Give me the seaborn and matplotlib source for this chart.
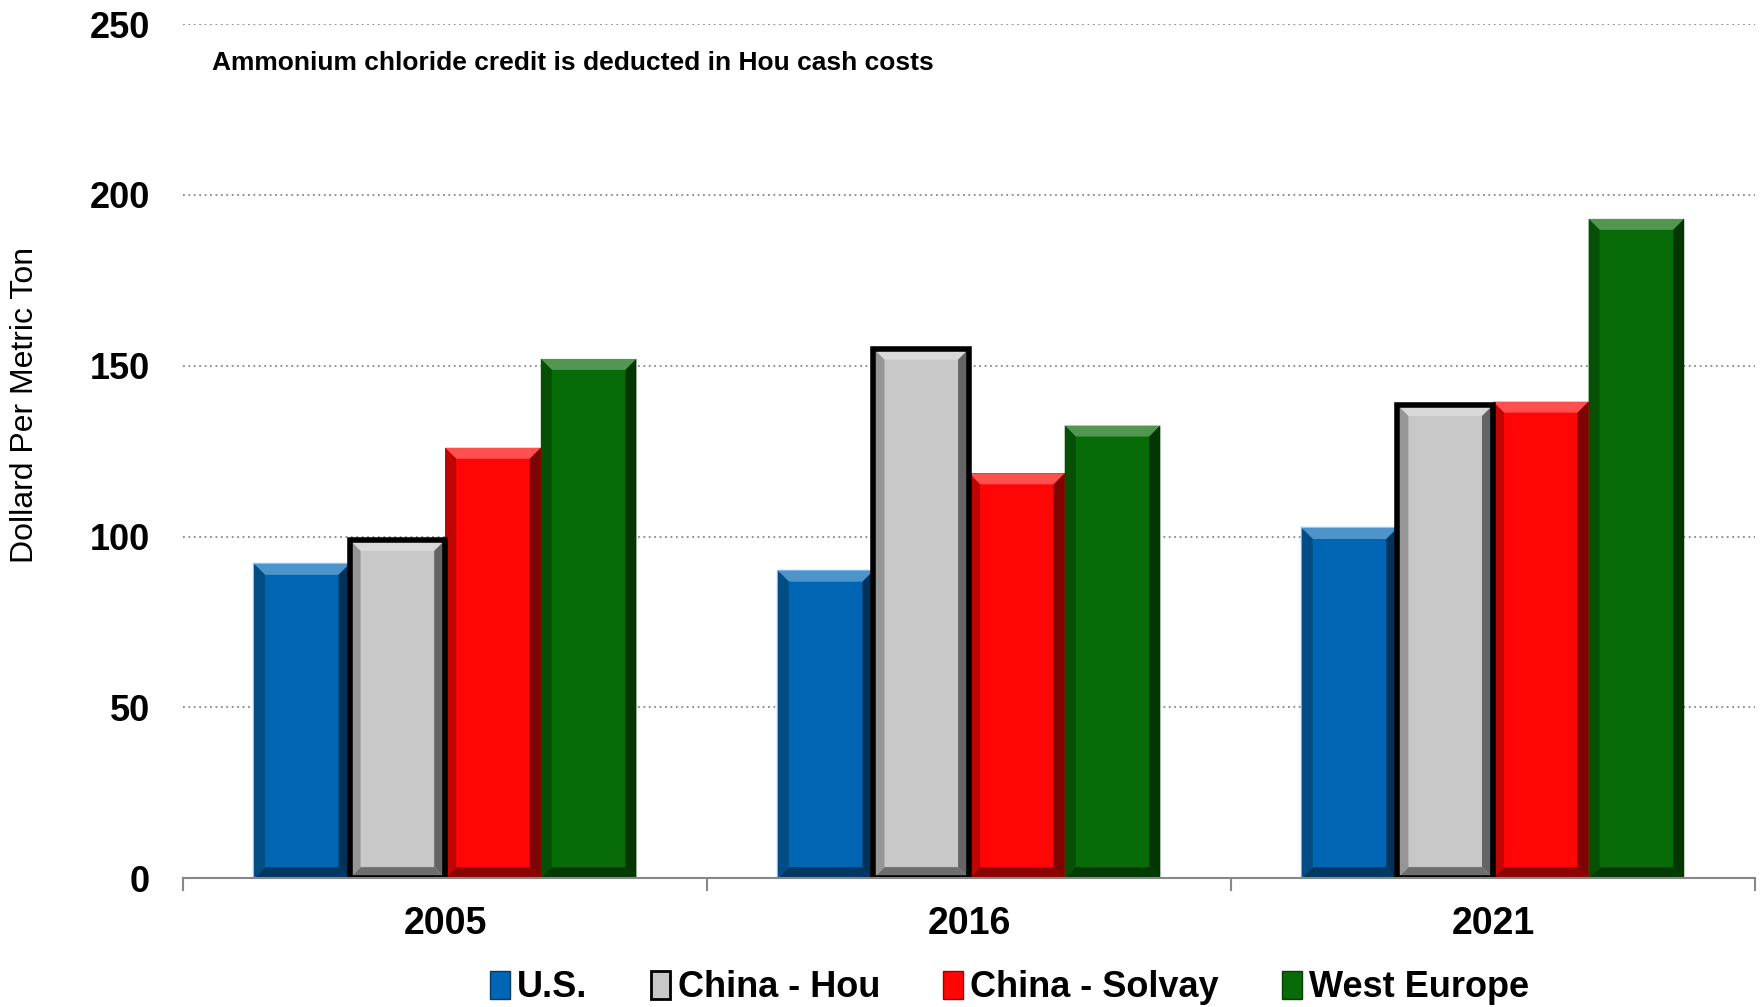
import numpy as np
import pandas as pd
import matplotlib
matplotlib.use("Agg")
import matplotlib.pyplot as plt
import seaborn as sns
from matplotlib.patches import Polygon, Patch, Rectangle
from matplotlib.colors import to_rgb

years = ["2005", "2016", "2021"]
regions = ["U.S.", "China - Hou", "China - Solvay", "West Europe"]
us = [92, 90, 102.5]
china_hou = [99, 155, 138.5]
china_solvay = [126, 118.5, 139.5]
west_europe = [152, 132.5, 193]
colors = ["#0066B3", "#C8C8C8", "#FF0505", "#076B07"]
yticks = [0, 50, 100, 150, 200, 250]
ylabel = "Dollard Per Metric Ton"
note = "Ammonium chloride credit is deducted in Hou cash costs"

rows = []
for reg, vals in zip(regions, [us, china_hou, china_solvay, west_europe]):
    for y, v in zip(years, vals):
        rows.append({"year": y, "region": reg, "value": v})
df = pd.DataFrame(rows)

sns.set_theme(style="white")
plt.rcParams["font.family"] = ["Liberation Sans", "DejaVu Sans"]
plt.rcParams["text.color"] = "black"
plt.rcParams["xtick.color"] = "black"
plt.rcParams["ytick.color"] = "black"
plt.rcParams["axes.labelcolor"] = "black"

fig = plt.figure(figsize=(17.62, 10.07), dpi=100)
ax = fig.add_axes([0.104, 0.128, 0.892, 0.848])

sns.barplot(data=df, x="year", y="value", hue="region", order=years,
            hue_order=regions, palette=colors, saturation=1, width=0.73,
            ax=ax, legend=False, linewidth=0)

ax.set_ylim(0, 250)
ax.set_xlim(-0.5, 2.5)
ax.set_yticks(yticks)
ax.set_yticklabels([str(t) for t in yticks], fontsize=26, fontweight="bold")
ax.tick_params(axis="y", length=0, pad=24, labelcolor="black")
ax.tick_params(axis="x", which="major", length=0, pad=20, labelsize=27,
               labelcolor="black")
for lab in ax.get_xticklabels():
    lab.set_fontweight("bold")
ax.set_xticks([-0.5, 0.5, 1.5, 2.5], minor=True)
ax.tick_params(axis="x", which="minor", length=9, width=1.5, color="#888888",
               direction="out", bottom=True)
ax.set_xlabel("")
ax.set_ylabel("")
fig.text(0.014, 0.598, ylabel, fontsize=23, rotation=90, ha="center",
         va="center", color="black")
ax.grid(axis="y", linestyle=(0, (1, 2)), color="#888888", linewidth=1.3)
ax.set_axisbelow(True)
for s in ["top", "right", "left"]:
    ax.spines[s].set_visible(False)
ax.spines["bottom"].set_color("#888888")
ax.spines["bottom"].set_linewidth(1.5)

# bevel decoration derived from each bar patch
fig.canvas.draw()
inv = ax.transData.inverted()
p0 = inv.transform((0, 0))
p1 = inv.transform((11, 11))
bx, by = p1[0] - p0[0], p1[1] - p0[1]

def shade(c, f):
    r = np.array(to_rgb(c))
    if f >= 0:
        return tuple(r + (1 - r) * f)
    return tuple(r * (1 + f))

for ci, cont in enumerate(ax.containers):
    col = colors[ci]
    for bar in cont:
        x0 = bar.get_x()
        w = bar.get_width()
        h = bar.get_height()
        x1 = x0 + w
        z = bar.get_zorder()
        if ci == 0:
            bar.set_edgecolor("#9CC8F5")
            bar.set_linewidth(2.5)
        polys = [
            ([(x0, h), (x1, h), (x1 - bx, h - by), (x0 + bx, h - by)], shade(col, 0.3)),
            ([(x0, 0), (x1, 0), (x1 - bx, by), (x0 + bx, by)], shade(col, -0.45)),
            ([(x0, 0), (x0 + bx, by), (x0 + bx, h - by), (x0, h)], shade(col, -0.25)),
            ([(x1, 0), (x1 - bx, by), (x1 - bx, h - by), (x1, h)], shade(col, -0.5)),
        ]
        for pts, fc in polys:
            ax.add_patch(Polygon(pts, closed=True, facecolor=fc, edgecolor="none",
                                 zorder=z + 0.1))
        if ci == 1:
            ax.add_patch(Rectangle((x0, 0), w, h, facecolor="none",
                                   edgecolor="black", linewidth=4,
                                   zorder=z + 0.2))

ax.text(0.018, 0.955, note, transform=ax.transAxes, fontsize=19,
        fontweight="bold", ha="left", va="center", color="black")

handles = [Patch(facecolor=c, edgecolor=("black" if i == 1 else shade(c, -0.4)),
                 linewidth=(2 if i == 1 else 1)) for i, c in enumerate(colors)]
leg = fig.legend(handles, regions, loc="center", bbox_to_anchor=(0.573, 0.019),
                 ncol=4, frameon=False, prop={"size": 26, "weight": "bold"},
                 handlelength=0.55, handleheight=0.8, handletextpad=0.2,
                 columnspacing=1.75)
for t in leg.get_texts():
    t.set_color("black")

fig.savefig("out.png", dpi=100)
